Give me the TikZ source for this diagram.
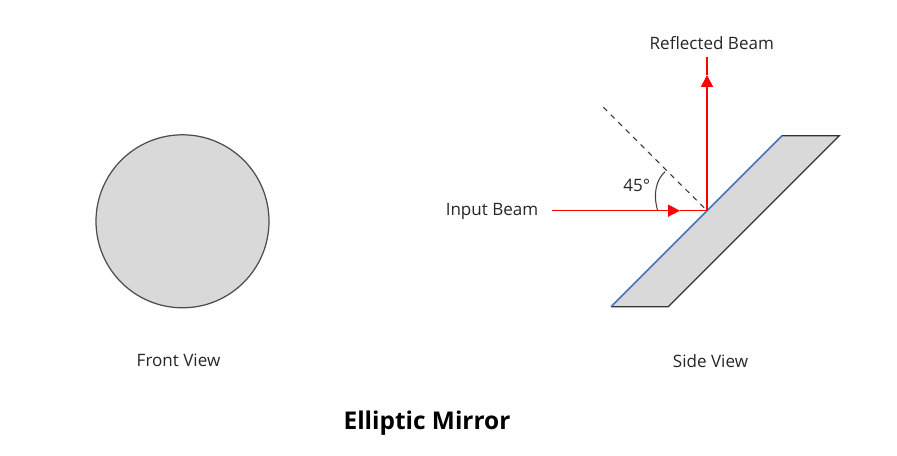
\documentclass[tikz,border=0pt]{standalone}
\usepackage{fontspec}
\setmainfont{Open Sans}
\usetikzlibrary{arrows.meta}

\begin{document}
\begin{tikzpicture}[x=0.02cm,y=0.02cm,
  lbl/.style={font=\fontsize{9.7}{11}\selectfont, text=black!85},
  beam/.style={red, line width=0.9pt},
  tip/.style={-{Triangle[length=0.24cm,width=0.24cm]}}]
\useasboundingbox (0,0) rectangle (897,456);
% front view
\draw[fill=gray!30, draw=black!70, line width=0.7pt] (182.5,234.7) circle (86.5);
\node[lbl] (front) at (178.5,95.3) {Front View};
% side view: mirror plate
\coordinate (bl) at (611,149.3);
\coordinate (tl) at (782,320.3);
\coordinate (tr) at (839.3,320.3);
\coordinate (br) at (668.3,149.3);
\fill[gray!30] (bl)--(tl)--(tr)--(br)--cycle;
\draw[black!80, line width=0.7pt] (tl)--(tr)--(br)--(bl);
\draw[color={rgb,255:red,68;green,114;blue,196}, line width=0.9pt] (bl)--(tl);
% beams
\coordinate (hit) at (707,245.3);
\coordinate (instart) at (551.7,245.3);
\coordinate (intip) at (680,245.3);
\coordinate (uptip) at (707,381);
\coordinate (uptop) at (707,399.3);
\coordinate (norm) at (603.3,348.7);
\draw[beam, tip] (instart)--(intip);
\draw[beam] (intip)--(hit);
\draw[beam, tip] (hit)--(uptip);
\draw[beam] (uptip)--(uptop);
\draw[dashed, black!80, line width=0.6pt] (norm)--(hit);
% angle
\coordinate (a1) at (657.5,246);
\coordinate (a2) at (665,284.3);
\draw[black!75, line width=0.6pt] (a1) .. controls (653,262) and (656,276) .. (a2);
\node[lbl] (ang) at (636.7,271) {45°};
\node[lbl] (inlbl) at (492,244.3) {Input Beam};
\node[lbl] (outlbl) at (711.8,413) {Reflected Beam};
\node[lbl] (side) at (710.5,95.3) {Side View};
\node[font=\fontsize{13.9}{16}\selectfont\bfseries] (title) at (427,32.7) {Elliptic Mirror};
\end{tikzpicture}
\end{document}
